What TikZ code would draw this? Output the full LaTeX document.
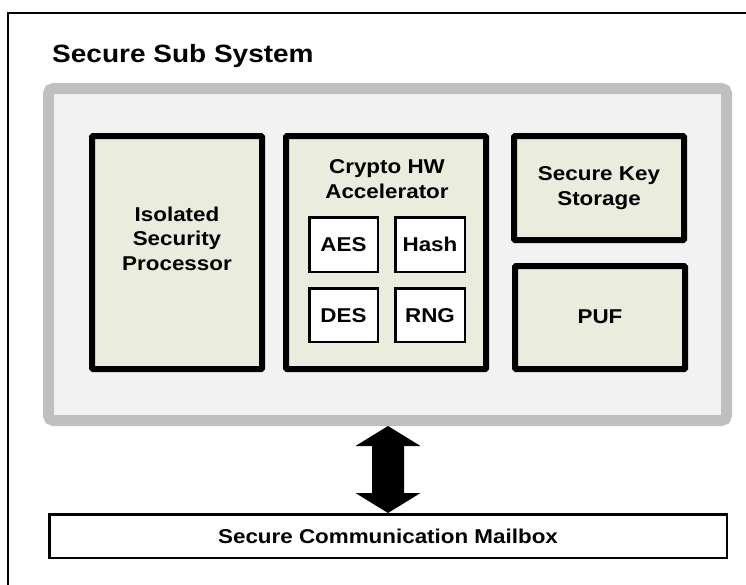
\documentclass[tikz,border=0pt]{standalone}
\usepackage{fontspec}
\setmainfont{Liberation Sans}[FakeStretch=1.12]
\usetikzlibrary{calc}
\definecolor{frameg}{HTML}{BFBFBF}
\definecolor{fillg}{HTML}{F1F2F1}
\definecolor{boxf}{HTML}{EAEDDE}
\tikzset{
  blk/.style={draw=black, line width=6pt, fill=boxf, inner sep=0pt, rounded corners=1pt},
  sub/.style={draw=black, line width=2.5pt, fill=white, inner sep=0pt},
  lbl/.style={font=\fontsize{20}{24.5}\selectfont\bfseries, align=center, inner sep=0pt, anchor=base},
}
\begin{document}
\begin{tikzpicture}[x=1pt,y=-1pt]
\useasboundingbox (0,0) rectangle (746,584);
\clip (0,0) rectangle (746,584);
\fill[white] (0,0) rectangle (746,584);
\draw[line width=2.5pt] (8,13) rectangle (780,620);
\node[font=\fontsize{25}{30}\selectfont\bfseries, anchor=base west, inner sep=0pt] (title) at (52,62) {Secure Sub System};
\node[draw=frameg, fill=fillg, line width=11pt, rounded corners=5pt, minimum width=678pt, minimum height=332pt, inner sep=0pt] (sys) at (387.5,254.5) {};
% blocks
\node[blk, minimum width=170pt, minimum height=233pt] (isp) at (177,252.5) {};
\node[blk, minimum width=200pt, minimum height=233pt] (cry) at (386,252.5) {};
\node[blk, minimum width=170pt, minimum height=104pt] (sks) at (599,188) {};
\node[blk, minimum width=170pt, minimum height=103pt] (puf) at (600,317.5) {};
\node[lbl] (ispt) at (177,270) {Isolated\\Security\\Processor};
\node[lbl] (cryt) at (387,198) {Crypto HW\\Accelerator};
\node[lbl] (skst) at (599,205) {Secure Key\\Storage};
\node[lbl] (puft) at (600,323) {PUF};
% crypto sub-blocks
\node[sub, minimum width=68.5pt, minimum height=54.5pt] (aes) at (343.5,244.5) {};
\node[sub, minimum width=69.5pt, minimum height=54.5pt] (hash) at (430,244.5) {};
\node[sub, minimum width=68.5pt, minimum height=53.5pt] (des) at (343.5,315) {};
\node[sub, minimum width=69.5pt, minimum height=53.5pt] (rng) at (430,315) {};
\node[lbl] (aest) at (343.5,251) {AES};
\node[lbl] (hasht) at (430,251) {Hash};
\node[lbl] (dest) at (343.5,322) {DES};
\node[lbl] (rngt) at (430,322) {RNG};
% mailbox
\node[draw=black, line width=2.5pt, fill=white, minimum width=677.5pt, minimum height=43.5pt, inner sep=0pt] (mb) at (388,536) {};
\node[lbl, font=\fontsize{20}{24}\selectfont\bfseries] (mbt) at (388,543) {Secure Communication Mailbox};
% double arrow
\coordinate (atop) at (sys.south -| mb.north);
\fill (atop) -- ++(-32.5,20) -- ++(16.5,0) -- ($(mb.north)+(-16,-20)$) -- ++(-16.5,0) -- (mb.north)
  -- ++(32.5,-20) -- ++(-16.5,0) -- ($(atop)+(16,20)$) -- ++(16.5,0) -- cycle;
\end{tikzpicture}
\end{document}
